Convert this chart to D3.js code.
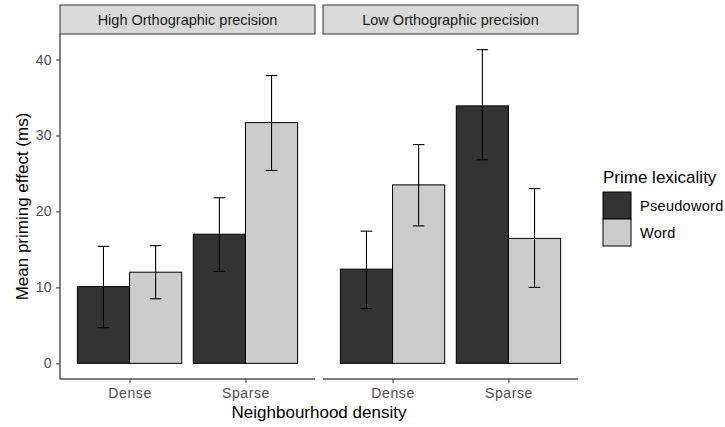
<!DOCTYPE html>
<html>
<head>
<meta charset="utf-8">
<script src="https://cdn.jsdelivr.net/npm/d3@7"></script>
<style>
  body { margin: 0; background: #fff; }
  text { font-family: "Liberation Sans", Arial, sans-serif; }
</style>
</head>
<body>
<div id="chart"></div>
<script>
// chart values
const panels = ["High Orthographic precision", "Low Orthographic precision"];
const densities = ["Dense", "Sparse"];
const lexicality = ["Pseudoword", "Word"];
// order: Dense-Pseudoword, Dense-Word, Sparse-Pseudoword, Sparse-Word
const highMean  = [10.1, 12.0, 17.0, 31.7];
const highLower = [4.7, 8.5, 12.1, 25.4];
const highUpper = [15.4, 15.5, 21.8, 37.9];
const lowMean   = [12.4, 23.5, 33.9, 16.45];
const lowLower  = [7.2, 18.1, 26.8, 10.0];
const lowUpper  = [17.4, 28.8, 41.3, 23.0];
const yTicks = [0, 10, 20, 30, 40];

const fills = ["#333333", "#CCCCCC"];

// build rows for each panel
const panelData = [
  [highMean, highLower, highUpper],
  [lowMean, lowLower, lowUpper]
].map(([m, lo, hi]) => m.map((v, i) => ({
  density: densities[Math.floor(i / 2)],
  lex: lexicality[i % 2],
  mean: v, lo: lo[i], hi: hi[i]
})));

const width = 725, height = 427;
const panelTop = 34, panelBottom = 379;
const panelX = [[60, 315], [323, 578]];

const svg = d3.select("#chart").append("svg")
    .attr("width", width)
    .attr("height", height);

// y scale with 5% expansion like ggplot
const yMax = d3.max(panelData.flat(), d => d.hi);
const pad = yMax * 0.05;
const y = d3.scaleLinear()
    .domain([-pad, yMax + pad])
    .range([panelBottom, panelTop]);

const color = d3.scaleOrdinal().domain(lexicality).range(fills);

panelData.forEach((rows, p) => {
  const [x0, x1] = panelX[p];
  const x = d3.scalePoint().domain(densities).range([x0, x1]).padding(0.6);
  const step = x.step();
  const inner = d3.scaleBand().domain(lexicality).range([-0.45 * step, 0.45 * step]);

  // strip
  svg.append("rect")
    .attr("x", x0).attr("y", 5)
    .attr("width", x1 - x0).attr("height", panelTop - 5)
    .attr("fill", "#D9D9D9")
    .attr("stroke", "#333333")
    .attr("stroke-width", 1);
  svg.append("text")
    .attr("x", (x0 + x1) / 2).attr("y", 20)
    .attr("dy", "0.35em")
    .attr("text-anchor", "middle")
    .attr("fill", "#1A1A1A")
    .style("font-size", "14.5px")
    .text(panels[p]);

  // bars
  svg.append("g").selectAll("rect")
    .data(rows)
    .enter().append("rect")
      .attr("x", d => x(d.density) + inner(d.lex))
      .attr("y", d => y(d.mean))
      .attr("width", inner.bandwidth())
      .attr("height", d => y(0) - y(d.mean))
      .attr("fill", d => color(d.lex))
      .attr("stroke", "#000")
      .attr("stroke-width", 1);

  // error bars
  const eb = svg.append("g").selectAll("g")
    .data(rows)
    .enter().append("g")
      .attr("transform", d => "translate(" + (x(d.density) + inner(d.lex) + inner.bandwidth() / 2) + ",0)");
  const cap = step * 0.05;
  eb.append("line")
    .attr("y1", d => y(d.lo)).attr("y2", d => y(d.hi))
    .attr("stroke", "#000").attr("stroke-width", 1.1);
  eb.append("line")
    .attr("x1", -cap).attr("x2", cap)
    .attr("y1", d => y(d.lo)).attr("y2", d => y(d.lo))
    .attr("stroke", "#000").attr("stroke-width", 1.1);
  eb.append("line")
    .attr("x1", -cap).attr("x2", cap)
    .attr("y1", d => y(d.hi)).attr("y2", d => y(d.hi))
    .attr("stroke", "#000").attr("stroke-width", 1.1);

  // x axis
  const xAxis = svg.append("g")
    .attr("transform", "translate(0," + panelBottom + ")")
    .call(d3.axisBottom(x).tickSize(4).tickPadding(5).tickSizeOuter(0));
  xAxis.select(".domain").attr("stroke", "#000").attr("d", "M" + x0 + ",0H" + x1);
  xAxis.selectAll(".tick line").attr("stroke", "#333333");
  xAxis.selectAll(".tick text")
    .attr("fill", "#4D4D4D")
    .style("font-size", "14px")
    .style("letter-spacing", "0.6px")
    .style("font-family", "'Liberation Sans', Arial, sans-serif");

  // y axis only on first panel
  if (p === 0) {
    const yAxis = svg.append("g")
      .attr("transform", "translate(" + x0 + ",0)")
      .call(d3.axisLeft(y).tickValues(yTicks).tickSize(4).tickPadding(4).tickSizeOuter(0));
    yAxis.select(".domain").attr("stroke", "#000").attr("d", "M0," + panelTop + "V" + panelBottom);
    yAxis.selectAll(".tick line").attr("stroke", "#333333");
    yAxis.selectAll(".tick text")
      .attr("fill", "#4D4D4D")
      .style("font-size", "14px")
      .style("letter-spacing", "0.4px")
      .style("font-family", "'Liberation Sans', Arial, sans-serif");
  }
});

// axis titles
svg.append("text")
  .attr("x", (panelX[0][0] + panelX[1][1]) / 2)
  .attr("y", 418)
  .attr("text-anchor", "middle")
  .style("font-size", "17px")
  .text("Neighbourhood density");

svg.append("text")
  .attr("transform", "translate(28," + (panelTop + panelBottom) / 2 + ") rotate(-90)")
  .attr("text-anchor", "middle")
  .style("font-size", "17px")
  .text("Mean priming effect (ms)");

// legend
const legend = svg.append("g").attr("transform", "translate(603,0)");
legend.append("text")
  .attr("x", 0).attr("y", 183)
  .style("font-size", "17px")
  .text("Prime lexicality");
const key = legend.selectAll(".key")
  .data(lexicality)
  .enter().append("g")
    .attr("class", "key")
    .attr("transform", (d, i) => "translate(0," + (192 + i * 27) + ")");
key.append("rect")
  .attr("width", 28).attr("height", 27)
  .attr("fill", d => color(d))
  .attr("stroke", "#000")
  .attr("stroke-width", 1);
key.append("text")
  .attr("x", 37).attr("y", 13.5)
  .attr("dy", "0.35em")
  .style("font-size", "14.5px")
  .style("letter-spacing", "0.3px")
  .text(d => d);
</script>
</body>
</html>
